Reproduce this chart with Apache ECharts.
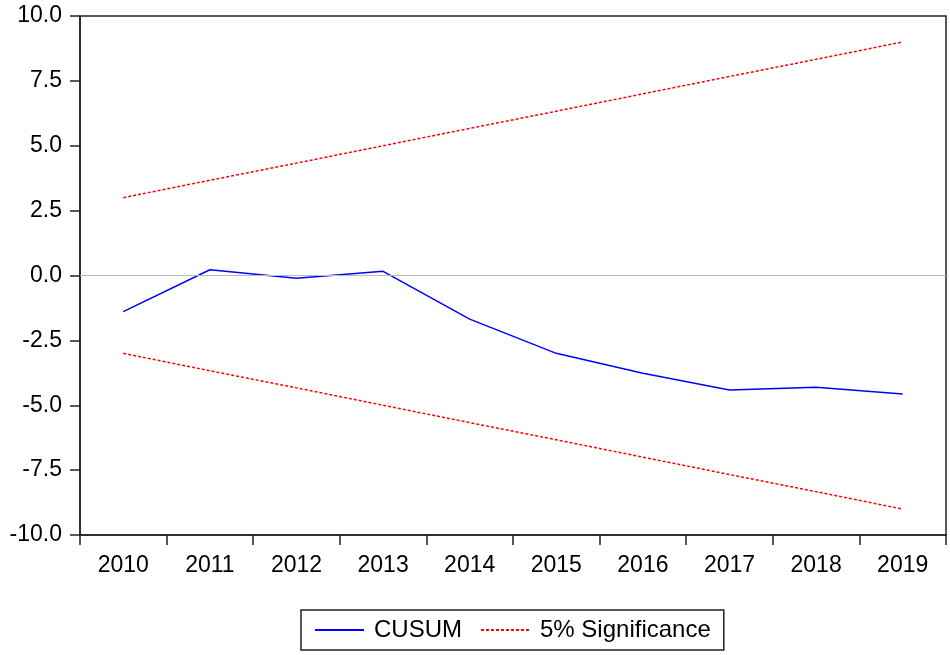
<!DOCTYPE html>
<html>
<head>
<meta charset="utf-8">
<script src="https://cdn.jsdelivr.net/npm/echarts@6/dist/echarts.min.js"></script>
<style>html,body{margin:0;padding:0;background:#fff}#c{width:950px;height:655px}</style>
</head>
<body>
<div id="c"></div>
<script>
var years = ['2010','2011','2012','2013','2014','2015','2016','2017','2018','2019'];
var cusum = [-1.39, 0.22, -0.11, 0.16, -1.68, -3.00, -3.77, -4.41, -4.31, -4.57];
var upper = [3.00, 3.67, 4.33, 5.00, 5.67, 6.33, 7.00, 7.67, 8.33, 9.00];
var lower = [-3.00, -3.67, -4.33, -5.00, -5.67, -6.33, -7.00, -7.67, -8.33, -9.00];
var yTicks = {min: -10, max: 10, step: 2.5};

var chart = echarts.init(document.getElementById('c'), null, {renderer: 'canvas'});
var font = '"Liberation Sans", Arial, sans-serif';
var axisColor = '#222';
chart.setOption({
  animation: false,
  backgroundColor: '#fff',
  textStyle: {fontFamily: font},
  grid: {left: 80, right: 4, top: 16, bottom: 120, show: true, borderColor: axisColor, borderWidth: 1.5, backgroundColor: 'transparent'},
  legend: {
    left: 301, top: 610,
    padding: [8, 13, 8, 13],
    borderColor: axisColor, borderWidth: 1.5, borderRadius: 0,
    itemWidth: 49, itemHeight: 14, itemGap: 18,
    itemStyle: {opacity: 0},
    data: ['CUSUM', '5% Significance'],
    textStyle: {fontSize: 24, color: '#000', fontFamily: font, padding: [0, 0, 0, 5]}
  },
  xAxis: {
    type: 'category', data: years, boundaryGap: true,
    axisLine: {onZero: false, lineStyle: {color: axisColor, width: 1.5}},
    axisTick: {show: true, length: 10, alignWithLabel: false, lineStyle: {color: axisColor, width: 1.5}},
    axisLabel: {fontSize: 23, color: '#000', margin: 19, fontFamily: font},
    splitLine: {show: false}
  },
  yAxis: {
    type: 'value', min: yTicks.min, max: yTicks.max, interval: yTicks.step,
    axisLine: {show: true, onZero: false, lineStyle: {color: axisColor, width: 1.5}},
    axisTick: {show: true, length: 10, lineStyle: {color: axisColor, width: 1.5}},
    axisLabel: {fontSize: 23, color: '#000', margin: 18, fontFamily: font, formatter: function (v) { return v.toFixed(1); }},
    splitLine: {show: false}
  },
  series: [
    {
      name: 'CUSUM', type: 'line', data: cusum, symbol: 'none',
      lineStyle: {color: '#0000ff', width: 1.5}, itemStyle: {color: '#0000ff'},
      markLine: {silent: true, symbol: 'none', label: {show: false},
        lineStyle: {color: '#bbbbbb', width: 1, type: 'solid'}, data: [{yAxis: 0}]},
      z: 3
    },
    {
      name: '5% Significance', type: 'line', data: upper, symbol: 'none',
      lineStyle: {color: '#ff0000', width: 1.5, type: [3, 2]}, itemStyle: {color: '#ff0000'}
    },
    {
      name: '5% Significance', type: 'line', data: lower, symbol: 'none',
      lineStyle: {color: '#ff0000', width: 1.5, type: [3, 2]}, itemStyle: {color: '#ff0000'}
    }
  ]
});
</script>
</body>
</html>
